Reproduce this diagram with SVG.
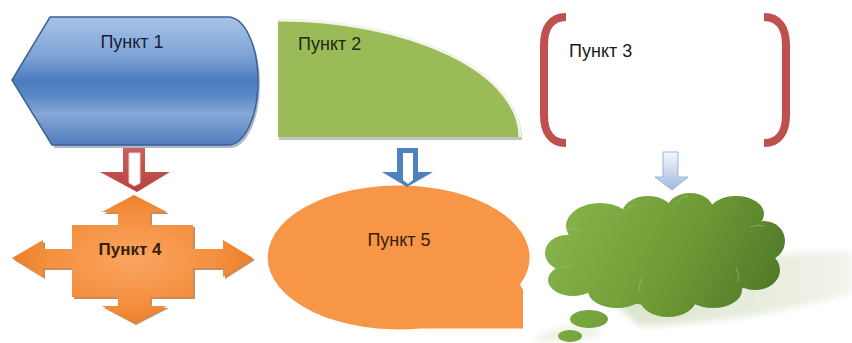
<svg xmlns="http://www.w3.org/2000/svg" width="852" height="343" viewBox="0 0 852 343">
<style>
  text { font-family: "Liberation Sans", Arial, sans-serif; font-size: 18px; }
  .lbl1 { fill: #16223a; }
  .lbl2 { fill: #1e2a10; }
  .lbl3 { fill: #1a1a1a; }
  .lbl4 { fill: #3a200c; font-weight: bold; font-size: 17px; }
  .lbl5 { fill: #3a200c; }
  .bracket { fill: none; stroke: #c0504d; stroke-width: 8; }
  .cloud { fill: url(#gCloud); }
</style>
<defs>
  <linearGradient id="gBlue" x1="0" y1="0" x2="0" y2="1">
    <stop offset="0" stop-color="#a9c3e6"/>
    <stop offset="0.3" stop-color="#7ea4d6"/>
    <stop offset="0.5" stop-color="#4a7cc0"/>
    <stop offset="0.62" stop-color="#5b89c7"/>
    <stop offset="0.76" stop-color="#86a8d6"/>
    <stop offset="1" stop-color="#4f7cbb"/>
  </linearGradient>
  <radialGradient id="gOrange" cx="0.5" cy="0.5" r="0.6">
    <stop offset="0" stop-color="#f9a562"/>
    <stop offset="0.6" stop-color="#f48f3e"/>
    <stop offset="1" stop-color="#e3731a"/>
  </radialGradient>
  <linearGradient id="gCloud" gradientUnits="userSpaceOnUse" x1="570" y1="200" x2="780" y2="310">
    <stop offset="0" stop-color="#86b24a"/>
    <stop offset="0.5" stop-color="#6f9b36"/>
    <stop offset="1" stop-color="#4c7526"/>
  </linearGradient>
  <linearGradient id="gRed" x1="0" y1="0" x2="0" y2="1">
    <stop offset="0" stop-color="#c9625f"/>
    <stop offset="1" stop-color="#b8403d"/>
  </linearGradient>
  <linearGradient id="gLightBlue" x1="0" y1="0" x2="0" y2="1">
    <stop offset="0" stop-color="#f4f8fd"/>
    <stop offset="1" stop-color="#9fb9de"/>
  </linearGradient>
  <linearGradient id="gShadow" gradientUnits="userSpaceOnUse" x1="620" y1="0" x2="852" y2="0">
    <stop offset="0" stop-color="#dbe4cc"/>
    <stop offset="1" stop-color="#f0f4ea"/>
  </linearGradient>
  <filter id="blur" x="-10%" y="-30%" width="120%" height="160%">
    <feGaussianBlur stdDeviation="3"/>
  </filter>
</defs>

<g id="node1">
  <path d="M 54 20 L 230 20 A 30 64 0 0 1 230 148 L 54 148 Z" fill="#4a5f80" opacity="0.45"/>
  <path d="M 50 17 L 228 17 A 30 64 0 0 1 228 145 L 52 145 L 12 80 Z" fill="url(#gBlue)" stroke="#3a6297" stroke-width="1.5"/>
  <text class="lbl1" x="132" y="48" text-anchor="middle">Пункт 1</text>
</g>

<g id="node2">
  <path d="M 279 22 L 279 140 L 522 140 A 242 117 0 0 0 279 22 Z" fill="#9a9a9a" opacity="0.6"/>
  <path d="M 278 20 L 278 137 L 520 137 A 242 117 0 0 0 278 20 Z" fill="#9bbb59"/>
  <path d="M 278 20 A 242 117 0 0 1 520 137" fill="none" stroke="#f3f3e6" stroke-width="3"/>
  <text class="lbl2" x="298" y="50">Пункт 2</text>
</g>

<g id="node3">
  <path class="bracket" d="M 566 17 C 551 17 544 28 544 45 L 544 115 C 544 132 551 143 566 143"/>
  <path class="bracket" d="M 764 17 C 779 17 786 28 786 45 L 786 115 C 786 132 779 143 764 143"/>
  <text class="lbl3" x="569" y="57">Пункт 3</text>
</g>

<g id="node4">
  <polygon transform="translate(2,2)" fill="#b85a10" opacity="0.7" points="134,195 167,212 150,212 150,225 193,225 193,249 223,249 223,240 253,258 223,277 223,268 193,268 193,297 150,297 150,306 167,306 134,323 102,306 118,306 118,297 72,297 72,268 43,268 43,277 12,258 43,240 43,249 72,249 72,225 118,225 118,212 102,212"/>
  <polygon fill="url(#gOrange)" points="134,195 167,212 150,212 150,225 193,225 193,249 223,249 223,240 253,258 223,277 223,268 193,268 193,297 150,297 150,306 167,306 134,323 102,306 118,306 118,297 72,297 72,268 43,268 43,277 12,258 43,240 43,249 72,249 72,225 118,225 118,212 102,212"/>
  <text class="lbl4" x="130" y="255" text-anchor="middle">Пункт 4</text>
</g>

<g id="node5">
  <path d="M 520 284.6 A 131 72 0 1 0 420 328.5 L 523 328.5 L 523 290 Z" fill="#f79646"/>
  <text class="lbl5" x="399" y="246" text-anchor="middle">Пункт 5</text>
</g>

<g id="node6">
  <path d="M 610 300 Q 700 250 852 252 L 852 292 Q 760 322 640 326 Z" fill="url(#gShadow)" filter="url(#blur)"/>
  <path d="M 535 338 Q 560 322 600 326 L 600 336 Q 570 342 535 342 Z" fill="#eef2e6" filter="url(#blur)"/>
  <g class="cloud">
    <ellipse cx="665" cy="258" rx="100" ry="48"/>
    <ellipse cx="600" cy="226" rx="34" ry="23"/>
    <ellipse cx="648" cy="214" rx="26" ry="18"/>
    <ellipse cx="690" cy="209" rx="23" ry="16"/>
    <ellipse cx="736" cy="214" rx="28" ry="18"/>
    <ellipse cx="764" cy="241" rx="21" ry="20"/>
    <ellipse cx="755" cy="270" rx="25" ry="20"/>
    <ellipse cx="713" cy="290" rx="29" ry="18"/>
    <ellipse cx="668" cy="297" rx="29" ry="20"/>
    <ellipse cx="617" cy="291" rx="29" ry="17"/>
    <ellipse cx="573" cy="280" rx="25" ry="16"/>
    <ellipse cx="567" cy="253" rx="22" ry="18"/>
    <ellipse cx="589" cy="319" rx="19" ry="9"/>
    <ellipse cx="570" cy="336" rx="12" ry="6"/>
  </g>
  <g fill="none" stroke="#a9c77c" stroke-width="1" opacity="0.55">
    <path d="M 566 230 Q 575 226 582 232"/>
    <path d="M 623 212 Q 628 206 636 205"/>
    <path d="M 676 204 Q 680 197 688 196"/>
    <path d="M 750 227 Q 758 224 764 226"/>
    <path d="M 738 282 Q 740 274 736 268"/>
    <path d="M 640 292 Q 638 284 642 278"/>
    <path d="M 560 268 Q 566 265 572 266"/>
  </g>
</g>

<g id="connectors">
  <polygon points="123,148 145,148 145,172 170,172 137,192 100,172 123,172" fill="url(#gRed)"/>
  <polygon points="129,153 140,153 140,183 134.5,186 129,183" fill="#ffffff" stroke="#f0d0cf" stroke-width="1"/>
  <polygon points="397,148 418,148 418,172 433,172 407,187 382,172 397,172" fill="#4f81bd"/>
  <polygon points="403,153 413,153 413,180 408,184 403,180" fill="#ffffff"/>
  <polygon points="663,152 678,152 678,177 688,177 672,190 655,177 663,177" fill="url(#gLightBlue)" stroke="#9ab3d6" stroke-width="1"/>
</g>
</svg>
